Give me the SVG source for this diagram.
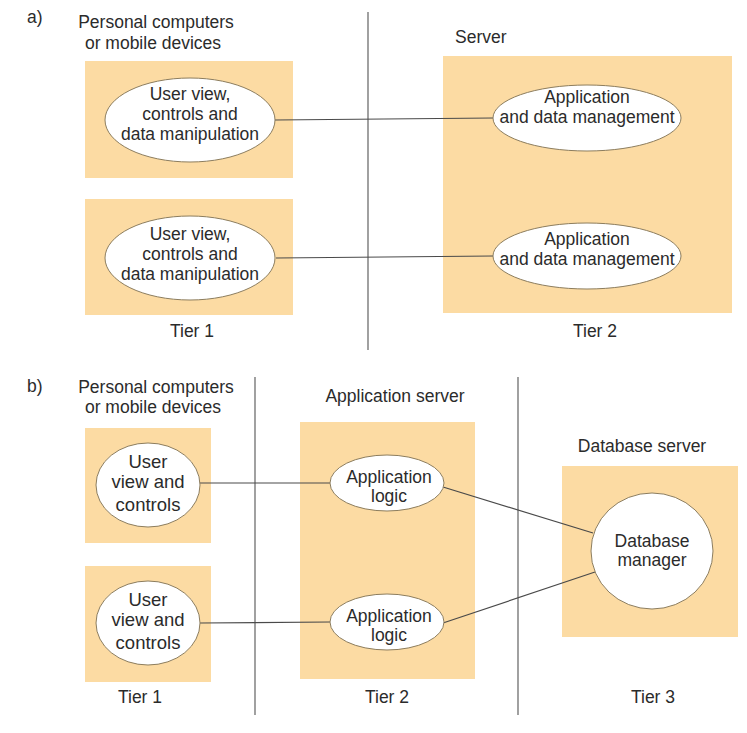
<svg xmlns="http://www.w3.org/2000/svg" width="747" height="733" viewBox="0 0 747 733">
<style>
text{font-family:"Liberation Sans",Arial,sans-serif;font-size:17.5px;fill:#2b2b2b;text-anchor:middle}
.lab{text-anchor:start}
.big{font-size:18.5px}
.box{fill:#fcdba3}
.node{fill:#fff;stroke:#8c7d5e;stroke-width:1}
.div{stroke:#6e6e6e;stroke-width:1.3;fill:none}
.con{stroke:#4a4a4a;stroke-width:1.2;fill:none}
</style>
<rect width="747" height="733" fill="#fff"/>
<g id="dividers">
<line class="div" x1="368" y1="12" x2="368" y2="350"/>
<line class="div" x1="255" y1="377" x2="255" y2="715"/>
<line class="div" x1="518" y1="377" x2="518" y2="715"/>
</g>
<g id="labels">
<text class="lab" x="27" y="23">a)</text>
<text x="156" y="28">Personal computers</text>
<text x="153" y="49">or mobile devices</text>
<text class="lab" x="455" y="43">Server</text>
<text x="192" y="337">Tier 1</text>
<text x="595" y="337">Tier 2</text>
<text class="lab" x="27" y="392">b)</text>
<text x="156" y="393">Personal computers</text>
<text x="153" y="413">or mobile devices</text>
<text x="395" y="402">Application server</text>
<text x="642" y="452">Database server</text>
<text x="140" y="703">Tier 1</text>
<text x="387" y="703">Tier 2</text>
<text x="653" y="703">Tier 3</text>
</g>
<g id="containers">
<rect class="box" x="85" y="61" width="208" height="117"/>
<rect class="box" x="85" y="199" width="208" height="116"/>
<rect class="box" x="443" y="56" width="289" height="257"/>
<rect class="box" x="85" y="428" width="126" height="115"/>
<rect class="box" x="85" y="566" width="126" height="116"/>
<rect class="box" x="300" y="422" width="175" height="257"/>
<rect class="box" x="562" y="466" width="176" height="171"/>
</g>
<g id="connectors">
<line class="con" x1="275" y1="120" x2="493" y2="118"/>
<line class="con" x1="276" y1="258" x2="493" y2="256"/>
<line class="con" x1="200" y1="483" x2="330" y2="483"/>
<line class="con" x1="200" y1="623" x2="330" y2="622"/>
<line class="con" x1="443" y1="487" x2="593" y2="533"/>
<line class="con" x1="443" y1="623" x2="595" y2="572"/>
</g>
<g id="a-client1">
<ellipse class="node" cx="190" cy="120" rx="85" ry="42"/>
<text x="190" y="100">User view,</text>
<text x="190" y="120">controls and</text>
<text x="190" y="140">data manipulation</text>
</g>
<g id="a-client2">
<ellipse class="node" cx="190" cy="258" rx="85" ry="42"/>
<text x="190" y="240">User view,</text>
<text x="190" y="260">controls and</text>
<text x="190" y="280">data manipulation</text>
</g>
<g id="a-server1">
<ellipse class="node" cx="587" cy="118" rx="94" ry="33"/>
<text x="587" y="103">Application</text>
<text x="587" y="123">and data management</text>
</g>
<g id="a-server2">
<ellipse class="node" cx="587" cy="256" rx="94" ry="33"/>
<text x="587" y="245">Application</text>
<text x="587" y="265">and data management</text>
</g>
<g id="b-client1">
<ellipse class="node" cx="148" cy="485" rx="52" ry="42"/>
<text class="big" x="148" y="468">User</text>
<text class="big" x="148" y="488">view and</text>
<text class="big" x="148" y="511">controls</text>
</g>
<g id="b-client2">
<ellipse class="node" cx="148" cy="623" rx="52" ry="42"/>
<text class="big" x="148" y="606">User</text>
<text class="big" x="148" y="626">view and</text>
<text class="big" x="148" y="649">controls</text>
</g>
<g id="b-app1">
<ellipse class="node" cx="387" cy="483" rx="57" ry="28"/>
<text x="389" y="483">Application</text>
<text x="389" y="502">logic</text>
</g>
<g id="b-app2">
<ellipse class="node" cx="387" cy="622" rx="57" ry="28"/>
<text x="389" y="622">Application</text>
<text x="389" y="641">logic</text>
</g>
<g id="b-db">
<ellipse class="node" cx="652" cy="551" rx="61" ry="58"/>
<text x="652" y="547">Database</text>
<text x="652" y="566">manager</text>
</g>
</svg>
